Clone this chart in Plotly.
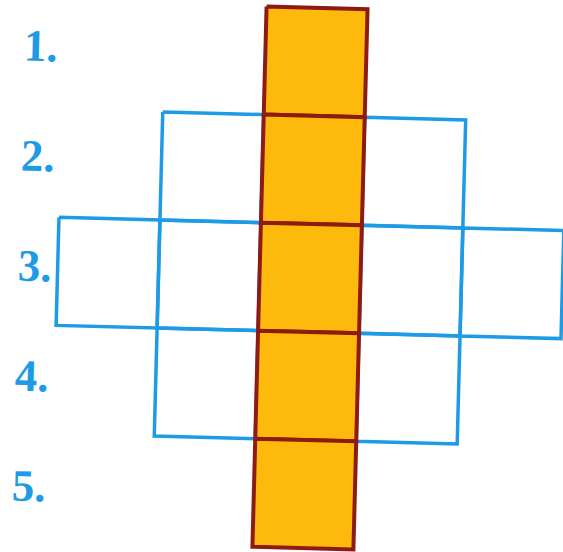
import math

import plotly.graph_objects as go

# puzzle grid: one row per clue, cells span from first to last column
ROW_LABELS = ["1.", "2.", "3.", "4.", "5."]
ROW_FIRST_COL = [0, -1, -2, -1, 0]
ROW_LAST_COL = [0, 1, 2, 1, 0]
ANSWER_COL = 0

_GRID_BLUE = "#1E9BE6"
_ANSWER_FILL = "#FDB90C"
_ANSWER_EDGE = "#8E1B12"
_LABEL_FONT = "Liberation Serif"

_CELL_H = 1.07  # cell height relative to width
_TILT = math.radians(1.5)  # the page is photographed slightly turned


def _turn(x, y):
    c, s = math.cos(_TILT), math.sin(_TILT)
    return x * c - y * s, x * s + y * c


def _cell_xy(col, yc):
    corners = [
        (col - 0.5, yc - _CELL_H / 2),
        (col + 0.5, yc - _CELL_H / 2),
        (col + 0.5, yc + _CELL_H / 2),
        (col - 0.5, yc + _CELL_H / 2),
        (col - 0.5, yc - _CELL_H / 2),
    ]
    pts = [_turn(x, y) for x, y in corners]
    return [p[0] for p in pts], [p[1] for p in pts]


fig = go.Figure()

mid = (len(ROW_LABELS) - 1) / 2
for i, label in enumerate(ROW_LABELS):
    yc = (i - mid) * _CELL_H
    for col in range(ROW_FIRST_COL[i], ROW_LAST_COL[i] + 1):
        if col == ANSWER_COL:
            continue
        xs, ys = _cell_xy(col, yc)
        fig.add_trace(
            go.Scatter(
                x=xs, y=ys, mode="lines",
                line=dict(color=_GRID_BLUE, width=3.5),
                hoverinfo="skip",
            )
        )

for i, label in enumerate(ROW_LABELS):
    yc = (i - mid) * _CELL_H
    xs, ys = _cell_xy(ANSWER_COL, yc)
    fig.add_trace(
        go.Scatter(
            x=xs, y=ys, mode="lines", fill="toself",
            fillcolor=_ANSWER_FILL,
            line=dict(color=_ANSWER_EDGE, width=4),
            hoverinfo="skip",
        )
    )
    lx, ly = _turn(-2.92, yc - 0.04 + 0.02 * (i - mid))
    fig.add_annotation(
        x=lx, y=ly, text=f"<b>{label}</b>", showarrow=False,
        xanchor="left", yanchor="middle", textangle=1.5,
        font=dict(family=_LABEL_FONT, size=45, color=_GRID_BLUE),
    )

fig.update_layout(
    width=563,
    height=552,
    margin=dict(l=0, r=0, t=0, b=0),
    paper_bgcolor="white",
    plot_bgcolor="white",
    showlegend=False,
    xaxis=dict(range=[-3.069, 2.505], visible=False, fixedrange=True),
    yaxis=dict(range=[2.713, -2.752], visible=False, fixedrange=True),
)

fig.write_html(
    "out.html",
    config={"displayModeBar": False},
    post_script="document.body.style.margin='0';",
)
